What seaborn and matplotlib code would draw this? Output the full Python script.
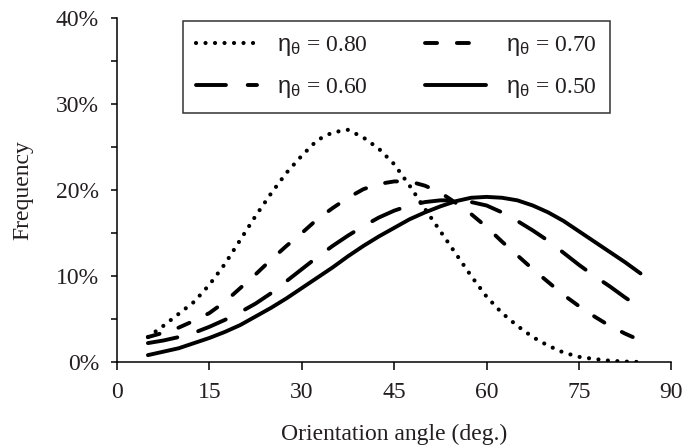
import numpy as np
import pandas as pd
import seaborn as sns
import matplotlib.pyplot as plt
from matplotlib.ticker import MultipleLocator, PercentFormatter

# orientation angles (deg.) and frequency (%)
angles = [5, 7.5, 10, 12.5, 15, 17.5, 20, 22.5, 25, 27.5, 30, 32.5, 35, 37.5, 40, 42.5,
          45, 47.5, 50, 52.5, 55, 57.5, 60, 62.5, 65, 67.5, 70, 72.5, 75, 77.5, 80, 82.5, 85]
freq_080 = [2.9, 4.2, 5.6, 7.0, 9.0, 11.4, 14.2, 17.0, 19.6, 22.0, 24.0, 25.8, 26.7, 27.0, 26.1, 24.8,
            23.0, 20.5, 17.8, 15.2, 12.6, 10.0, 7.6, 5.7, 4.2, 2.9, 1.9, 1.1, 0.6, 0.35, 0.15, 0.05, 0.0]
freq_070 = [2.9, 3.4, 4.0, 4.8, 5.7, 7.0, 8.6, 10.2, 11.9, 13.5, 15.0, 16.6, 17.9, 19.1, 20.1, 20.7,
            21.0, 21.0, 20.5, 19.7, 18.5, 17.2, 15.7, 14.0, 12.4, 10.8, 9.3, 7.8, 6.5, 5.3, 4.2, 3.3, 2.5]
freq_060 = [2.2, 2.5, 2.9, 3.4, 4.1, 4.9, 5.8, 6.8, 8.0, 9.4, 10.8, 12.2, 13.5, 14.7, 15.8, 16.8,
            17.6, 18.2, 18.6, 18.8, 18.8, 18.6, 18.2, 17.4, 16.4, 15.3, 14.1, 12.7, 11.3, 10.0, 8.8, 7.5, 6.3]
freq_050 = [0.8, 1.2, 1.6, 2.2, 2.8, 3.5, 4.3, 5.3, 6.3, 7.4, 8.6, 9.8, 11.0, 12.3, 13.5, 14.6,
            15.6, 16.6, 17.4, 18.1, 18.7, 19.1, 19.2, 19.1, 18.8, 18.2, 17.4, 16.4, 15.2, 14.0, 12.8, 11.6, 10.3]
etas = ['0.80', '0.70', '0.60', '0.50']

series = dict(zip(etas, [freq_080, freq_070, freq_060, freq_050]))
data = pd.concat([pd.DataFrame({'angle': angles, 'freq': v, 'eta': k}) for k, v in series.items()])

sns.set_style('ticks')
plt.rcParams['font.family'] = ['Liberation Serif', 'DejaVu Serif']
plt.rcParams['mathtext.fontset'] = 'custom'
plt.rcParams['mathtext.rm'] = 'Liberation Serif'
plt.rcParams['mathtext.sf'] = 'Liberation Sans'
txt = '#231f20'

styles = {'0.80': (0.01, 2.27), '0.70': (3.1, 5.1), '0.60': (7.7, 5.6), '0.50': ''}
widths = {'0.80': 3.0, '0.70': 2.8, '0.60': 2.8, '0.50': 2.8}
fs = 17

fig = plt.figure(figsize=(6.85, 4.45), dpi=100)
ax = fig.add_axes([0.171, 0.1865, 0.809, 0.773])

for eta in etas:
    d = data.query(f"eta == '{eta}'")
    kw = dict(dashes=styles[eta]) if styles[eta] else dict(linestyle='-')
    sns.lineplot(x='angle', y='freq', data=d, ax=ax, color='black', lw=widths[eta],
                 label=r'$\mathsf{\eta_{\theta}}$ = ' + eta,
                 dash_capstyle='round', solid_capstyle='round', **kw)

ax.set_xlim(0, 90)
ax.set_ylim(0, 40)
ax.xaxis.set_major_locator(MultipleLocator(15))
ax.yaxis.set_major_locator(MultipleLocator(10))
ax.yaxis.set_minor_locator(MultipleLocator(5))
ax.yaxis.set_major_formatter(PercentFormatter(xmax=100, decimals=0))
ax.tick_params(axis='both', which='both', direction='out', width=1.1, colors='black',
               labelcolor=txt, labelsize=fs)
ax.tick_params(axis='x', which='major', length=5.5, pad=9)
ax.tick_params(axis='y', which='major', length=4, pad=9)
ax.tick_params(axis='y', which='minor', length=4)
sns.despine(ax=ax)
for s in ['left', 'bottom']:
    ax.spines[s].set_linewidth(1.1)
    ax.spines[s].set_color('black')

ax.set_xlabel('Orientation angle (deg.)', fontsize=fs, color=txt, labelpad=15)
ax.set_ylabel('Frequency', fontsize=fs, color=txt, labelpad=16)

h, l = ax.get_legend_handles_labels()
order = [0, 2, 1, 3]
leg = ax.legend([h[i] for i in order], [l[i] for i in order], ncol=2, loc='upper center',
                bbox_to_anchor=(0.504, 0.99), borderaxespad=0, fontsize=17, frameon=True,
                fancybox=False, edgecolor='#333333', framealpha=1, handlelength=2.6,
                handletextpad=0.85, columnspacing=2.4, labelspacing=0.75, borderpad=0.55)
leg.get_frame().set_linewidth(1.1)
for t in leg.get_texts():
    t.set_color(txt)

fig.savefig('out.png', dpi=100)
